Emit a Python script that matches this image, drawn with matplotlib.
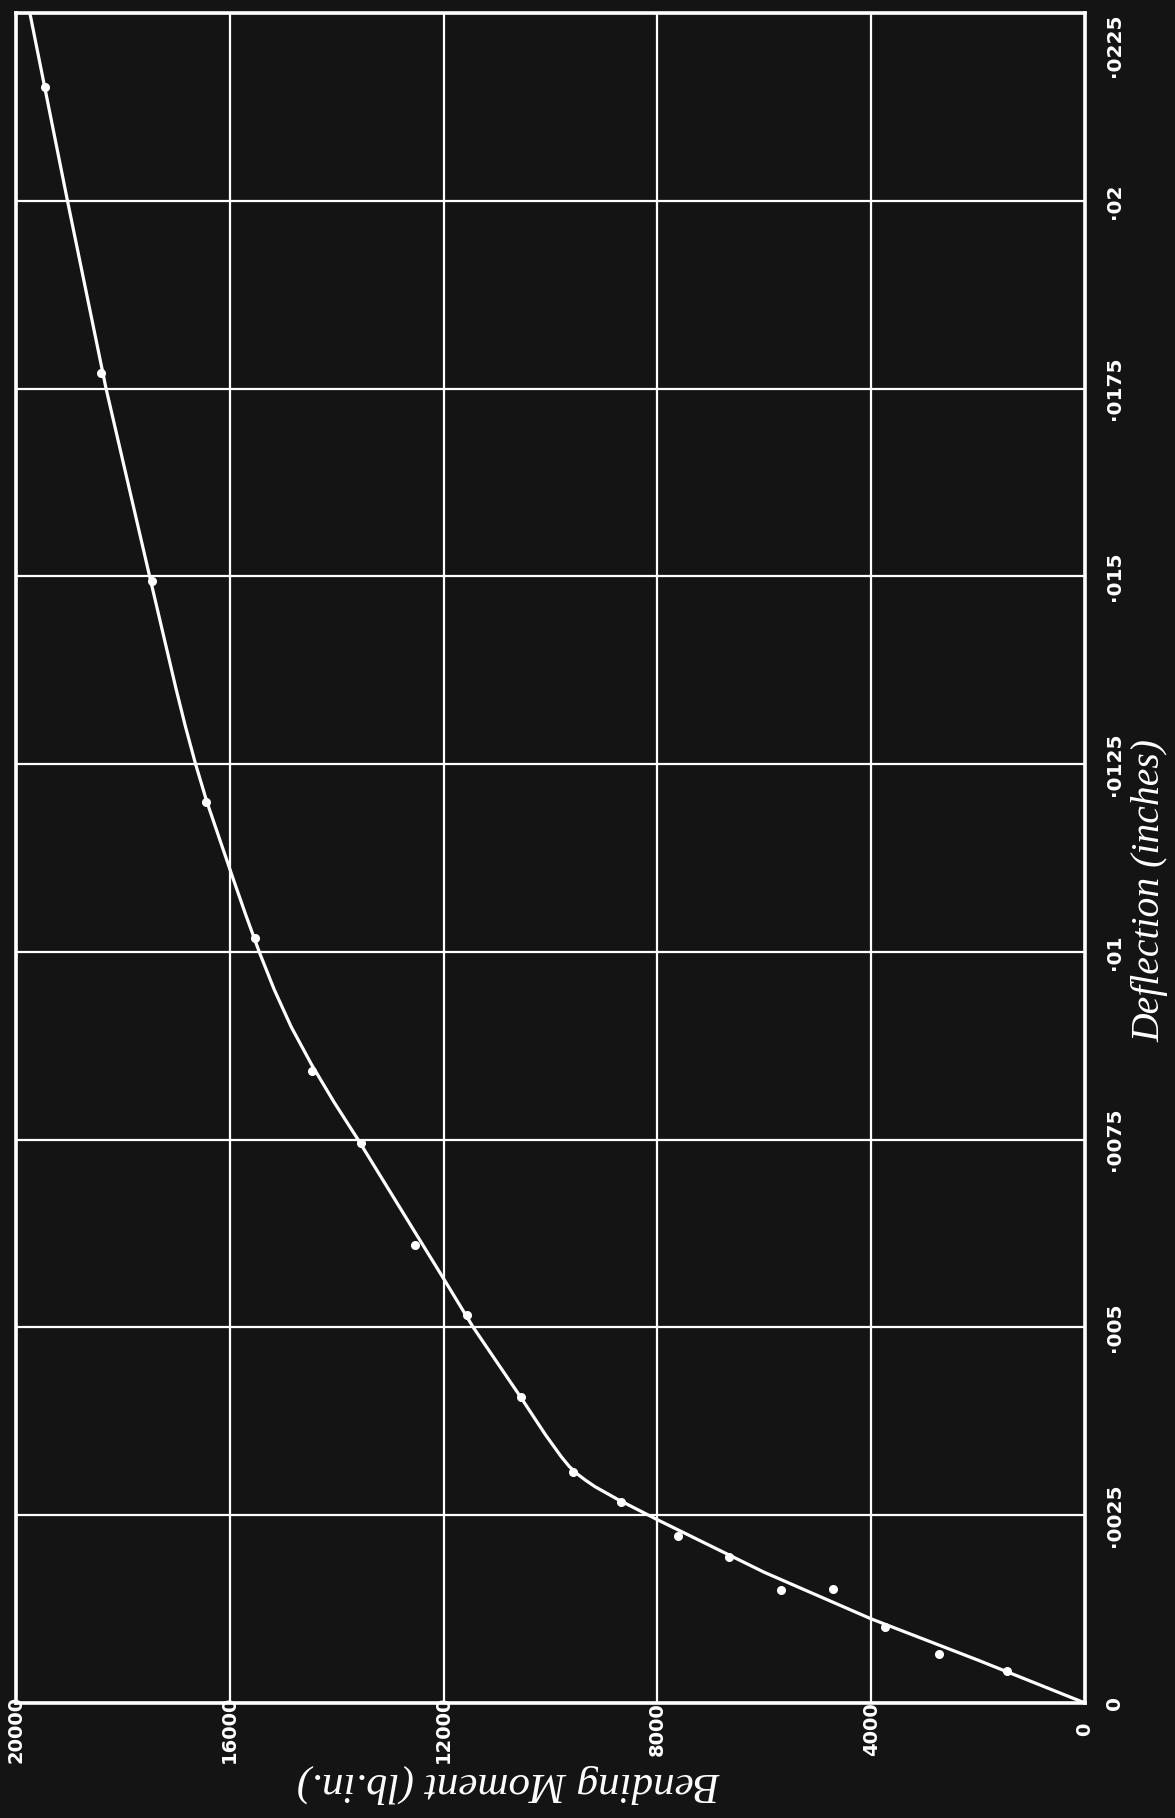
import matplotlib
matplotlib.use("Agg")
import matplotlib.pyplot as plt

# ---- data ----
moment_ticks = [0, 4000, 8000, 12000, 16000, 20000]
moment_labels = ["0", "4000", "8000", "12000", "16000", "20000"]
defl_ticks = [0, 0.0025, 0.005, 0.0075, 0.01, 0.0125, 0.015, 0.0175, 0.02, 0.0225]
defl_labels = ["0", "·0025", "·005", "·0075", "·01", "·0125", "·015", "·0175", "·02", "·0225"]

pt_moment = [1467, 2724, 3733, 4710, 5682, 6654, 7607, 8679, 9574, 10556,
             11556, 12540, 13554, 14457, 15523, 16448, 17463, 18407, 19463]
pt_defl = [0.00043, 0.00065, 0.00101, 0.00152, 0.00151, 0.00195, 0.00222, 0.00268,
           0.00308, 0.00407, 0.00516, 0.00610, 0.00745, 0.00842, 0.01018, 0.01199,
           0.01494, 0.01771, 0.02151]

curve_moment = [0, 2000, 4000, 6000, 8000, 8741, 9167, 9352, 9500, 9650, 9800,
                10093, 10556, 11444, 12000, 12520, 13600, 14050, 14470, 14850,
                15170, 15450, 15705, 15950, 16190, 16430, 16640, 16830, 17005,
                17500, 18315, 19037, 19741]
curve_defl = [0, 0.00057, 0.00112, 0.00174, 0.00244, 0.00271, 0.00288, 0.00297,
              0.00305, 0.00315, 0.00328, 0.00357, 0.00407, 0.00500, 0.00565,
              0.00625, 0.00750, 0.00800, 0.00850, 0.00900, 0.00950, 0.01000,
              0.01050, 0.01100, 0.01150, 0.01200, 0.01250, 0.01300, 0.01350,
              0.01500, 0.01750, 0.02000, 0.02250]

xlabel = "Bending Moment (lb.in.)"
ylabel = "Deflection (inches)"

# ---- figure ----
BG = "#141414"
W, H = 1175, 1818
fig = plt.figure(figsize=(W / 100, H / 100), dpi=100, facecolor=BG)
left, right, top, bottom = 16, 1085, 13, 1703
ax = fig.add_axes([left / W, 1 - bottom / H, (right - left) / W, (bottom - top) / H])
ax.set_facecolor(BG)

ax.plot(curve_moment, curve_defl, color="white", lw=2.3, solid_capstyle="round",
        solid_joinstyle="round", zorder=3)
ax.plot(pt_moment, pt_defl, "o", color="white", ms=5.5, mec="white", zorder=4)

ax.set_xlim(20000, 0)
ax.set_ylim(0, 0.0225)

ax.set_xticks(moment_ticks)
ax.set_xticklabels(moment_labels)
ax.set_yticks(defl_ticks)
ax.set_yticklabels(defl_labels)

ax.yaxis.tick_right()
ax.tick_params(axis="both", length=0, colors="white")
ax.tick_params(axis="x", pad=19)
ax.tick_params(axis="y", pad=21)

for lab in ax.get_xticklabels():
    lab.set_rotation(90)
    lab.set_va("center")
    lab.set_ha("center")
    lab.set_fontsize(14)
    lab.set_fontweight("bold")
    lab.set_color("white")
ylabs = ax.get_yticklabels()
for lab in ylabs:
    lab.set_rotation(90)
    lab.set_va("center")
    lab.set_ha("center")
    lab.set_fontsize(14.5)
    lab.set_fontweight("bold")
    lab.set_color("white")
ylabs[-1].set_va("top")

ax.grid(True, color="white", lw=1.6)
ax.set_axisbelow(True)
for s in ax.spines.values():
    s.set_color("white")
    s.set_linewidth(2.6)

fig.text(508 / W, 1 - 1784 / H, xlabel, rotation=180, ha="center", va="center",
         color="white", fontsize=31, fontstyle="italic", family="Liberation Serif")
fig.text(1150 / W, 1 - 890 / H, ylabel, rotation=90, ha="center", va="center",
         color="white", fontsize=28.5, fontstyle="italic", family="Liberation Serif")

fig.savefig("out.png", dpi=100, facecolor=BG)
